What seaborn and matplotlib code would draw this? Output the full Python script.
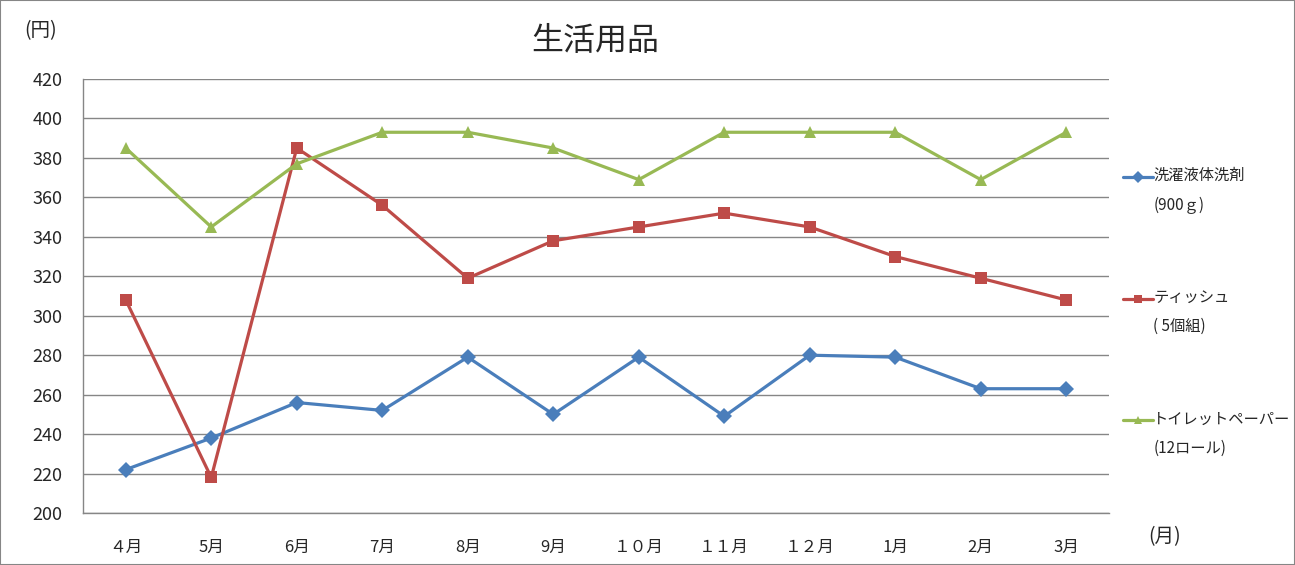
import pandas as pd
import seaborn as sns
from matplotlib import pyplot as plt
from matplotlib.patches import Rectangle

months = ['４月', '5月', '6月', '7月', '8月', '9月', '１０月', '１１月', '１２月', '1月', '2月', '3月']
detergent = [222, 238, 256, 252, 279, 250, 279, 249, 280, 279, 263, 263]
tissue = [308, 218, 385, 356, 319, 338, 345, 352, 345, 330, 319, 308]
toilet_paper = [385, 345, 377, 393, 393, 385, 369, 393, 393, 393, 369, 393]

seriesNames = ['洗濯液体洗剤', 'ティッシュ', 'トイレットペーパー']
seriesNotes = ['(900ｇ)', '( 5個組)', '(12ロール)']
seriesValues = [detergent, tissue, toilet_paper]
palette = ['#4A7EBB', '#BE4B48', '#98B954']
markerStyles = ['D', 's', '^']

rows = []
for name, values in zip(seriesNames, seriesValues):
    for i, v in enumerate(values):
        rows.append([i, months[i], name, v])
plotData = pd.DataFrame(rows, columns=['pos', 'month', 'item', 'price'])

sns.set_style('white')
plt.rcParams['font.family'] = ['Noto Sans CJK JP', 'DejaVu Sans']

fig = plt.figure(figsize=(12.95, 5.65), dpi=100)
ax = fig.add_axes([83 / 1295, 1 - 513 / 565, (1109 - 83) / 1295, (513 - 79) / 565])

_ = sns.lineplot(
    data=plotData,
    x='pos',
    y='price',
    hue='item',
    style='item',
    palette=palette,
    markers=dict(zip(seriesNames, markerStyles)),
    dashes=False,
    linewidth=2.3,
    markersize=8,
    markeredgewidth=0,
    sort=False,
    ax=ax,
)

gridColor = '#868686'
ax.set_ylim(200, 420)
ax.set_yticks(range(200, 421, 20))
ax.set_xlim(-0.5, len(months) - 0.5)
ax.set_xticks(range(len(months)))
ax.set_xticklabels(months)
ax.set_xticks([i - 0.5 for i in range(len(months) + 1)], minor=True)
ax.tick_params(axis='x', which='major', length=0, pad=19, labelsize=12)
ax.tick_params(axis='x', which='minor', length=6, direction='out', color=gridColor, width=1)
ax.tick_params(axis='y', length=6, direction='out', color=gridColor, width=1, pad=9, labelsize=13)
ax.yaxis.grid(True, color=gridColor, linewidth=1)
ax.set_axisbelow(True)
ax.set_xlabel('')
ax.set_ylabel('')
for side in ['top', 'right']:
    ax.spines[side].set_visible(False)
for side in ['left', 'bottom']:
    ax.spines[side].set_color(gridColor)
    ax.spines[side].set_linewidth(1)

# blank first line so the handle sits beside the item name, not between the two lines
handles, labels = ax.get_legend_handles_labels()
legendLabels = [' \n' + n + '\n' + s for n, s in zip(seriesNames, seriesNotes)]
leg = ax.legend(handles, legendLabels, loc='upper left', bbox_to_anchor=(1115 / 1295, 1 - 130 / 565),
                bbox_transform=fig.transFigure, frameon=False, fontsize=11,
                labelspacing=3.0, handlelength=2.0, handletextpad=0.0, borderpad=0,
                markerscale=0.75)
for t in leg.get_texts():
    t.set_linespacing(1.95)

fig.text(595 / 1295, 1 - 41 / 565, '生活用品', ha='center', va='center', fontsize=23)
fig.text(41 / 1295, 1 - 31 / 565, '(円)', ha='center', va='center', fontsize=14)
fig.text(1165 / 1295, 1 - 537 / 565, '(月)', ha='center', va='center', fontsize=14)

fig.patches.append(Rectangle((0, 0), 1, 1, transform=fig.transFigure, fill=False,
                             edgecolor=gridColor, linewidth=1.5))

fig.savefig('out.png', dpi=100)
